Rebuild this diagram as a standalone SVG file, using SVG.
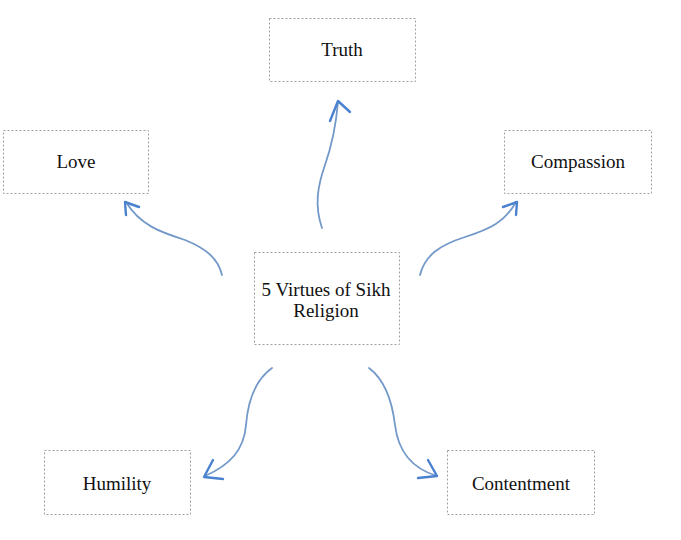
<svg xmlns="http://www.w3.org/2000/svg" width="681" height="540" viewBox="0 0 681 540">
<style>
.box{fill:#fff;stroke:#a0a0a0;stroke-width:1;stroke-dasharray:2,2}
.lbl{font-family:"Liberation Serif","Times New Roman",serif;font-size:19px;fill:#111;text-anchor:middle}
.edge{fill:none;stroke:#7399c9;stroke-width:1.8;stroke-linecap:round;stroke-linejoin:round}
.head{fill:none;stroke:#4a82d0;stroke-width:2.4;stroke-linecap:round;stroke-linejoin:round}
</style>
<rect width="681" height="540" fill="#fff"/>
<g id="center">
<rect class="box" x="254.5" y="252.5" width="145" height="92"/>
<text class="lbl" x="326" y="296">5 Virtues of Sikh</text>
<text class="lbl" x="326" y="317">Religion</text>
</g>
<g id="truth">
<rect class="box" x="269.5" y="18.5" width="146" height="63"/>
<text class="lbl" x="342" y="56">Truth</text>
</g>
<g id="love">
<rect class="box" x="3.5" y="130.5" width="145" height="63"/>
<text class="lbl" x="76" y="168">Love</text>
</g>
<g id="compassion">
<rect class="box" x="504.5" y="130.5" width="147" height="63"/>
<text class="lbl" x="578" y="168">Compassion</text>
</g>
<g id="humility">
<rect class="box" x="44.5" y="450.5" width="146" height="64"/>
<text class="lbl" x="117" y="490">Humility</text>
</g>
<g id="contentment">
<rect class="box" x="447.5" y="450.5" width="147" height="64"/>
<text class="lbl" x="521" y="490">Contentment</text>
</g>
<g id="connectors">
<path class="edge" d="M322,228 C314,205 318,185 325,165 C332,145 336,125 338,102"/>
<path class="head" d="M330,121 L338,101 L350,112"/>
<path class="edge" d="M222,275 C218,258 205,248 185,240 C160,232 140,225 126,202"/>
<path class="head" d="M126,215 L125,202 L139,207"/>
<path class="edge" d="M420,275 C425,255 440,245 465,237 C490,229 505,222 516,202"/>
<path class="head" d="M503,207 L517,202 L516,215"/>
<path class="edge" d="M272,368 C255,380 248,400 246,425 C244,450 230,465 205,476"/>
<path class="head" d="M213,460 L204,477 L223,479"/>
<path class="edge" d="M369,368 C385,380 392,400 395,425 C398,450 410,468 437,476"/>
<path class="head" d="M428,460 L437,476 L418,478"/>
</g>
</svg>
